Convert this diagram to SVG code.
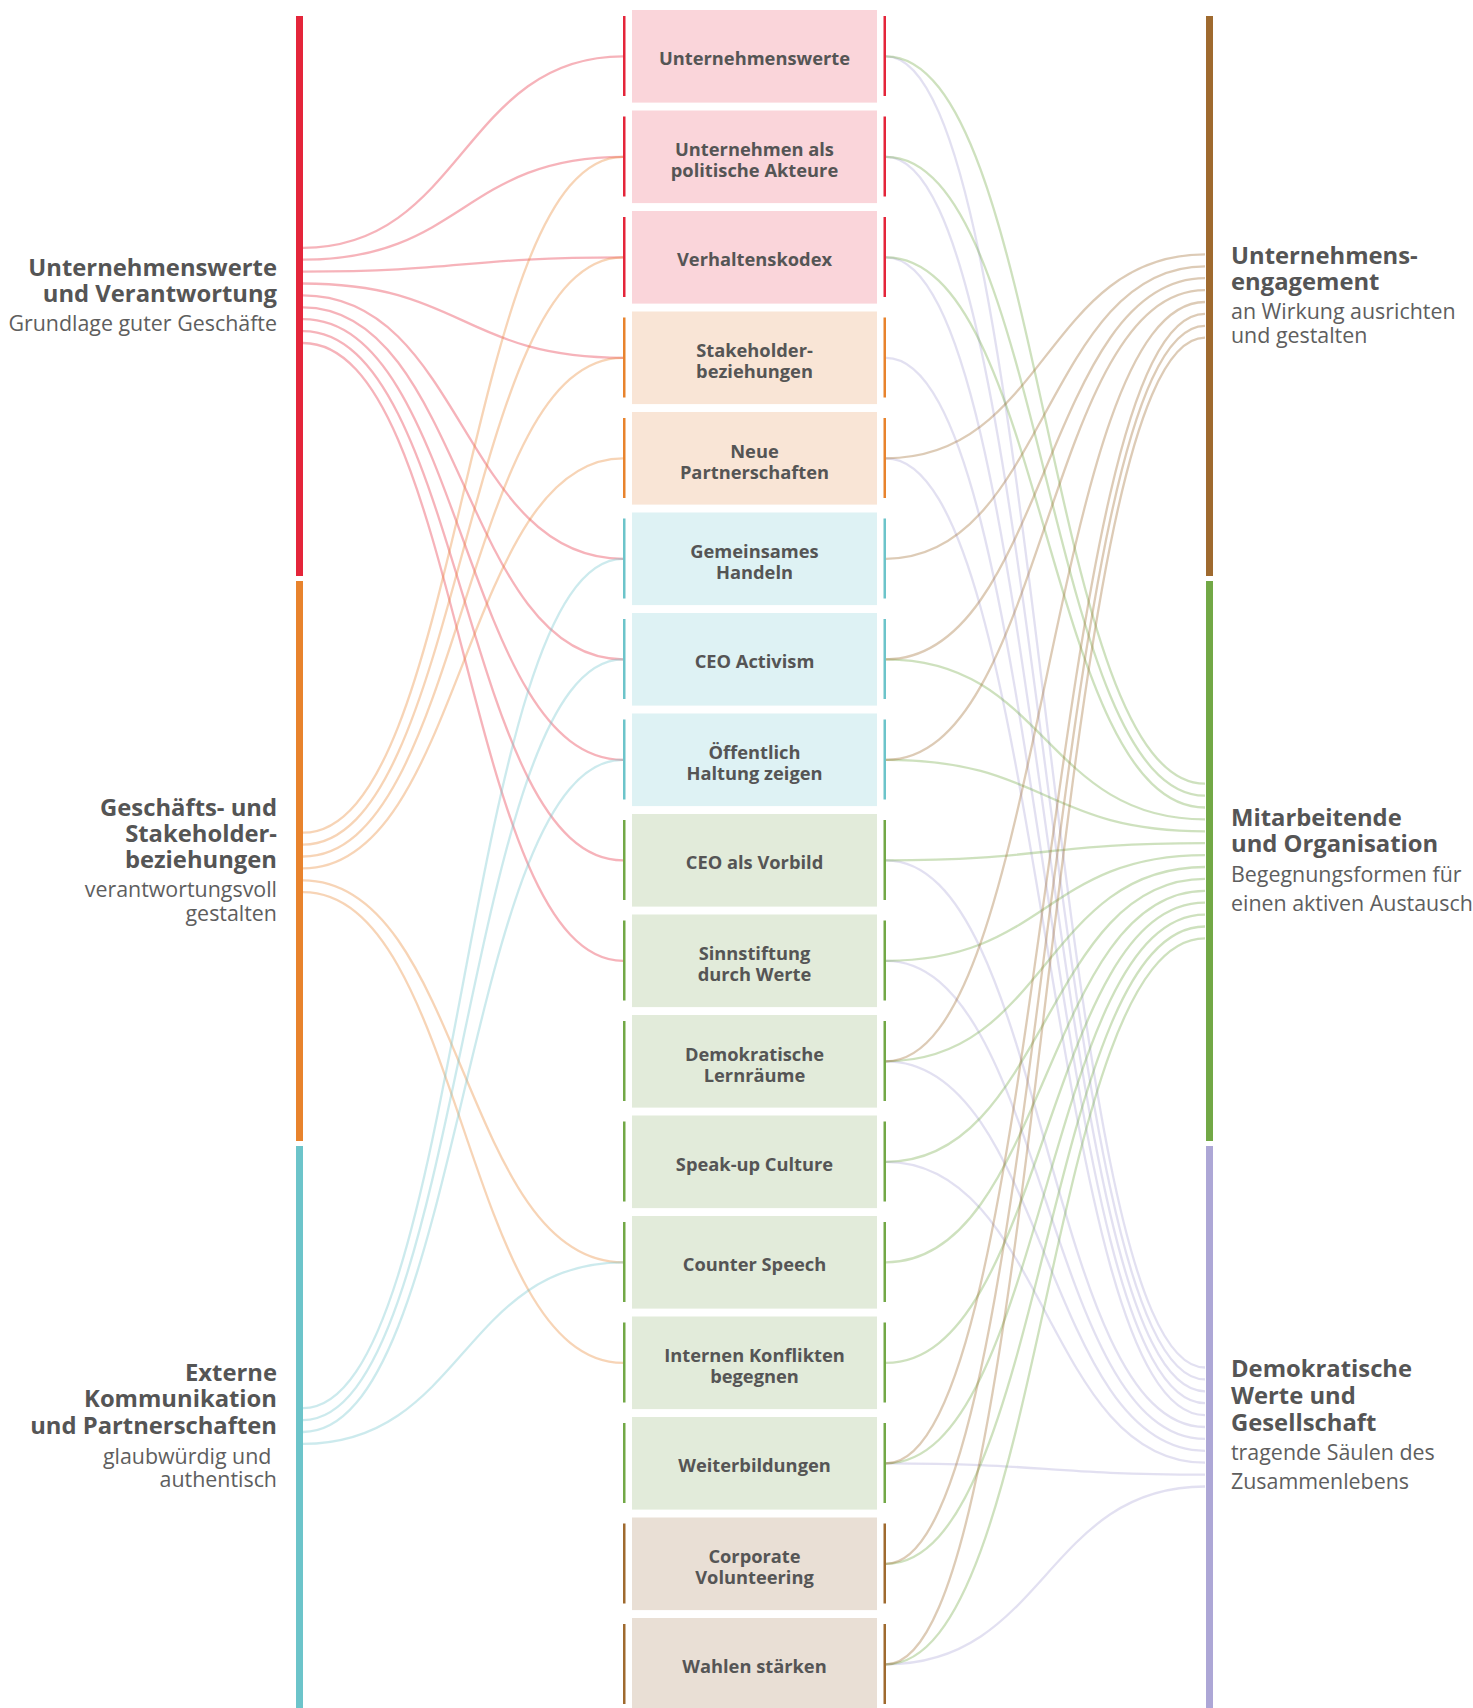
<svg xmlns="http://www.w3.org/2000/svg" width="1473" height="1708" viewBox="0 0 1473 1708">
<style>
.bg{fill:#ffffff}
.box text{font-family:"Open Sans","Noto Sans","Liberation Sans",sans-serif;font-size:18.3px;font-weight:700;fill:#555555;text-anchor:middle}
.t{font-family:"Open Sans","Noto Sans","Liberation Sans",sans-serif;font-size:23.8px;font-weight:700;fill:#555555}
.s{font-family:"Open Sans","Noto Sans","Liberation Sans",sans-serif;font-size:21.4px;font-weight:400;fill:#5e5e5e}
.end{text-anchor:end}
.links path{fill:none;stroke-width:2.3;stroke-opacity:0.35}
.lr{stroke:#e4253a}.lo{stroke:#e8832d}.lt{stroke:#6cc4ca}
.rb{stroke:#9f6a2f}.rg{stroke:#72a846}.rp{stroke:#ada7d6}
.cr{fill:#e4253a}.co{fill:#e8832d}.ct{fill:#6cc4ca}.cb{fill:#9f6a2f}.cg{fill:#72a846}.cp{fill:#ada7d6}
.fr{fill:#fad5da}.fo{fill:#f9e5d6}.ft{fill:#def2f4}.fg{fill:#e2ebda}.fb{fill:#e9dfd5}
</style>
<rect class="bg" x="0" y="0" width="1473" height="1708"/>

<g id="connectors" class="links">
<path class="lr" d="M303,247.8 C463,247.8 463,56.3 623,56.3"/>
<path class="lr" d="M303,259.7 C463,259.7 463,156.8 623,156.8"/>
<path class="lr" d="M303,271.6 C463,271.6 463,257.3 623,257.3"/>
<path class="lr" d="M303,283.5 C463,283.5 463,357.8 623,357.8"/>
<path class="lr" d="M303,295.4 C463,295.4 463,558.8 623,558.8"/>
<path class="lr" d="M303,307.3 C463,307.3 463,659.3 623,659.3"/>
<path class="lr" d="M303,319.2 C463,319.2 463,759.8 623,759.8"/>
<path class="lr" d="M303,331.1 C463,331.1 463,860.3 623,860.3"/>
<path class="lr" d="M303,343 C463,343 463,960.8 623,960.8"/>
<path class="lo" d="M303,832.7 C463,832.7 463,156.8 623,156.8"/>
<path class="lo" d="M303,844.6 C463,844.6 463,257.3 623,257.3"/>
<path class="lo" d="M303,856.5 C463,856.5 463,357.8 623,357.8"/>
<path class="lo" d="M303,868.4 C463,868.4 463,458.3 623,458.3"/>
<path class="lo" d="M303,880.3 C463,880.3 463,1262.3 623,1262.3"/>
<path class="lo" d="M303,892.2 C463,892.2 463,1362.8 623,1362.8"/>
<path class="lt" d="M303,1408.2 C463,1408.2 463,558.8 623,558.8"/>
<path class="lt" d="M303,1420.1 C463,1420.1 463,659.3 623,659.3"/>
<path class="lt" d="M303,1432 C463,1432 463,759.8 623,759.8"/>
<path class="lt" d="M303,1443.9 C463,1443.9 463,1262.3 623,1262.3"/>

<path class="rp" d="M886,56.3 C1045.5,56.3 1045.5,1367.5 1205,1367.5"/>
<path class="rp" d="M886,156.8 C1045.5,156.8 1045.5,1379.4 1205,1379.4"/>
<path class="rp" d="M886,257.3 C1045.5,257.3 1045.5,1391.3 1205,1391.3"/>
<path class="rp" d="M886,357.8 C1045.5,357.8 1045.5,1403.2 1205,1403.2"/>
<path class="rp" d="M886,458.3 C1045.5,458.3 1045.5,1415.1 1205,1415.1"/>
<path class="rp" d="M886,860.3 C1045.5,860.3 1045.5,1427 1205,1427"/>
<path class="rp" d="M886,960.8 C1045.5,960.8 1045.5,1438.9 1205,1438.9"/>
<path class="rp" d="M886,1061.3 C1045.5,1061.3 1045.5,1450.8 1205,1450.8"/>
<path class="rp" d="M886,1161.8 C1045.5,1161.8 1045.5,1462.7 1205,1462.7"/>
<path class="rp" d="M886,1463.3 C1045.5,1463.3 1045.5,1474.6 1205,1474.6"/>
<path class="rp" d="M886,1664.3 C1045.5,1664.3 1045.5,1486.5 1205,1486.5"/>

<path class="rg" d="M886,56.3 C1045.5,56.3 1045.5,783.7 1205,783.7"/>
<path class="rg" d="M886,156.8 C1045.5,156.8 1045.5,795.6 1205,795.6"/>
<path class="rg" d="M886,257.3 C1045.5,257.3 1045.5,807.5 1205,807.5"/>
<path class="rg" d="M886,659.3 C1045.5,659.3 1045.5,819.4 1205,819.4"/>
<path class="rg" d="M886,759.8 C1045.5,759.8 1045.5,831.3 1205,831.3"/>
<path class="rg" d="M886,860.3 C1045.5,860.3 1045.5,843.2 1205,843.2"/>
<path class="rg" d="M886,960.8 C1045.5,960.8 1045.5,855.1 1205,855.1"/>
<path class="rg" d="M886,1061.3 C1045.5,1061.3 1045.5,867 1205,867"/>
<path class="rg" d="M886,1161.8 C1045.5,1161.8 1045.5,878.9 1205,878.9"/>
<path class="rg" d="M886,1262.3 C1045.5,1262.3 1045.5,890.8 1205,890.8"/>
<path class="rg" d="M886,1362.8 C1045.5,1362.8 1045.5,902.7 1205,902.7"/>
<path class="rg" d="M886,1463.3 C1045.5,1463.3 1045.5,914.6 1205,914.6"/>
<path class="rg" d="M886,1563.8 C1045.5,1563.8 1045.5,926.5 1205,926.5"/>
<path class="rg" d="M886,1664.3 C1045.5,1664.3 1045.5,938.4 1205,938.4"/>

<path class="rb" d="M886,458.3 C1045.5,458.3 1045.5,254.4 1205,254.4"/>
<path class="rb" d="M886,558.8 C1045.5,558.8 1045.5,266.3 1205,266.3"/>
<path class="rb" d="M886,659.3 C1045.5,659.3 1045.5,278.2 1205,278.2"/>
<path class="rb" d="M886,759.8 C1045.5,759.8 1045.5,290.1 1205,290.1"/>
<path class="rb" d="M886,1061.3 C1045.5,1061.3 1045.5,302 1205,302"/>
<path class="rb" d="M886,1463.3 C1045.5,1463.3 1045.5,313.9 1205,313.9"/>
<path class="rb" d="M886,1563.8 C1045.5,1563.8 1045.5,325.8 1205,325.8"/>
<path class="rb" d="M886,1664.3 C1045.5,1664.3 1045.5,337.7 1205,337.7"/>
</g>

<g id="src-werte">
<rect class="cr" x="296" y="16" width="7" height="560"/>
<text class="t end" x="277" y="275.5">Unternehmenswerte</text>
<text class="t end" x="277" y="301.5">und Verantwortung</text>
<text class="s end" x="277" y="331">Grundlage guter Geschäfte</text>
</g>
<g id="src-stakeholder">
<rect class="co" x="296" y="581" width="7" height="560"/>
<text class="t end" x="277" y="816">Geschäfts- und</text>
<text class="t end" x="277" y="842">Stakeholder-</text>
<text class="t end" x="277" y="868">beziehungen</text>
<text class="s end" x="277" y="897">verantwortungsvoll</text>
<text class="s end" x="277" y="921">gestalten</text>
</g>
<g id="src-kommunikation">
<rect class="ct" x="296" y="1146" width="7" height="562"/>
<text class="t end" x="277" y="1381">Externe</text>
<text class="t end" x="277" y="1407">Kommunikation</text>
<text class="t end" x="277" y="1433.5">und Partnerschaften</text>
<text class="s end" x="277" y="1464" xml:space="preserve">glaubwürdig und </text>
<text class="s end" x="277" y="1487">authentisch</text>
</g>

<g id="tgt-engagement">
<rect class="cb" x="1206" y="16" width="7" height="560"/>
<text class="t" x="1231" y="264">Unternehmens-</text>
<text class="t" x="1231" y="290">engagement</text>
<text class="s" x="1231" y="319">an Wirkung ausrichten</text>
<text class="s" x="1231" y="343">und gestalten</text>
</g>
<g id="tgt-mitarbeitende">
<rect class="cg" x="1206" y="581" width="7" height="560"/>
<text class="t" x="1231" y="825.5">Mitarbeitende</text>
<text class="t" x="1231" y="852">und Organisation</text>
<text class="s" x="1231" y="882">Begegnungsformen für</text>
<text class="s" x="1231" y="910.5">einen aktiven Austausch</text>
</g>
<g id="tgt-gesellschaft">
<rect class="cp" x="1206" y="1146" width="7" height="562"/>
<text class="t" x="1231" y="1377">Demokratische</text>
<text class="t" x="1231" y="1404">Werte und</text>
<text class="t" x="1231" y="1431">Gesellschaft</text>
<text class="s" x="1231" y="1460">tragende Säulen des</text>
<text class="s" x="1231" y="1488.5">Zusammenlebens</text>
</g>

<g id="n0" class="box"><rect class="fr" x="632" y="10" width="245" height="92.6"/><rect class="cr" x="623" y="16" width="2.5" height="80"/><rect class="cr" x="883.5" y="16" width="2.5" height="80"/><text x="754.5" y="65.3">Unternehmenswerte</text></g>
<g id="n1" class="box"><rect class="fr" x="632" y="110.5" width="245" height="92.6"/><rect class="cr" x="623" y="116.5" width="2.5" height="80"/><rect class="cr" x="883.5" y="116.5" width="2.5" height="80"/><text x="754.5" y="156.3">Unternehmen als</text><text x="754.5" y="177.3">politische Akteure</text></g>
<g id="n2" class="box"><rect class="fr" x="632" y="211" width="245" height="92.6"/><rect class="cr" x="623" y="217" width="2.5" height="80"/><rect class="cr" x="883.5" y="217" width="2.5" height="80"/><text x="754.5" y="266.3">Verhaltenskodex</text></g>
<g id="n3" class="box"><rect class="fo" x="632" y="311.5" width="245" height="92.6"/><rect class="co" x="623" y="317.5" width="2.5" height="80"/><rect class="co" x="883.5" y="317.5" width="2.5" height="80"/><text x="754.5" y="357.3">Stakeholder-</text><text x="754.5" y="378.3">beziehungen</text></g>
<g id="n4" class="box"><rect class="fo" x="632" y="412" width="245" height="92.6"/><rect class="co" x="623" y="418" width="2.5" height="80"/><rect class="co" x="883.5" y="418" width="2.5" height="80"/><text x="754.5" y="457.8">Neue</text><text x="754.5" y="478.8">Partnerschaften</text></g>
<g id="n5" class="box"><rect class="ft" x="632" y="512.5" width="245" height="92.6"/><rect class="ct" x="623" y="518.5" width="2.5" height="80"/><rect class="ct" x="883.5" y="518.5" width="2.5" height="80"/><text x="754.5" y="558.3">Gemeinsames</text><text x="754.5" y="579.3">Handeln</text></g>
<g id="n6" class="box"><rect class="ft" x="632" y="613" width="245" height="92.6"/><rect class="ct" x="623" y="619" width="2.5" height="80"/><rect class="ct" x="883.5" y="619" width="2.5" height="80"/><text x="754.5" y="668.3">CEO Activism</text></g>
<g id="n7" class="box"><rect class="ft" x="632" y="713.5" width="245" height="92.6"/><rect class="ct" x="623" y="719.5" width="2.5" height="80"/><rect class="ct" x="883.5" y="719.5" width="2.5" height="80"/><text x="754.5" y="759.3">Öffentlich</text><text x="754.5" y="780.3">Haltung zeigen</text></g>
<g id="n8" class="box"><rect class="fg" x="632" y="814" width="245" height="92.6"/><rect class="cg" x="623" y="820" width="2.5" height="80"/><rect class="cg" x="883.5" y="820" width="2.5" height="80"/><text x="754.5" y="869.3">CEO als Vorbild</text></g>
<g id="n9" class="box"><rect class="fg" x="632" y="914.5" width="245" height="92.6"/><rect class="cg" x="623" y="920.5" width="2.5" height="80"/><rect class="cg" x="883.5" y="920.5" width="2.5" height="80"/><text x="754.5" y="960.3">Sinnstiftung</text><text x="754.5" y="981.3">durch Werte</text></g>
<g id="n10" class="box"><rect class="fg" x="632" y="1015" width="245" height="92.6"/><rect class="cg" x="623" y="1021" width="2.5" height="80"/><rect class="cg" x="883.5" y="1021" width="2.5" height="80"/><text x="754.5" y="1060.8">Demokratische</text><text x="754.5" y="1081.8">Lernräume</text></g>
<g id="n11" class="box"><rect class="fg" x="632" y="1115.5" width="245" height="92.6"/><rect class="cg" x="623" y="1121.5" width="2.5" height="80"/><rect class="cg" x="883.5" y="1121.5" width="2.5" height="80"/><text x="754.5" y="1170.8">Speak-up Culture</text></g>
<g id="n12" class="box"><rect class="fg" x="632" y="1216" width="245" height="92.6"/><rect class="cg" x="623" y="1222" width="2.5" height="80"/><rect class="cg" x="883.5" y="1222" width="2.5" height="80"/><text x="754.5" y="1271.3">Counter Speech</text></g>
<g id="n13" class="box"><rect class="fg" x="632" y="1316.5" width="245" height="92.6"/><rect class="cg" x="623" y="1322.5" width="2.5" height="80"/><rect class="cg" x="883.5" y="1322.5" width="2.5" height="80"/><text x="754.5" y="1362.3">Internen Konflikten</text><text x="754.5" y="1383.3">begegnen</text></g>
<g id="n14" class="box"><rect class="fg" x="632" y="1417" width="245" height="92.6"/><rect class="cg" x="623" y="1423" width="2.5" height="80"/><rect class="cg" x="883.5" y="1423" width="2.5" height="80"/><text x="754.5" y="1472.3">Weiterbildungen</text></g>
<g id="n15" class="box"><rect class="fb" x="632" y="1517.5" width="245" height="92.6"/><rect class="cb" x="623" y="1523.5" width="2.5" height="80"/><rect class="cb" x="883.5" y="1523.5" width="2.5" height="80"/><text x="754.5" y="1563.3">Corporate</text><text x="754.5" y="1584.3">Volunteering</text></g>
<g id="n16" class="box"><rect class="fb" x="632" y="1618" width="245" height="92.6"/><rect class="cb" x="623" y="1624" width="2.5" height="80"/><rect class="cb" x="883.5" y="1624" width="2.5" height="80"/><text x="754.5" y="1673.3">Wahlen stärken</text></g>
</svg>
